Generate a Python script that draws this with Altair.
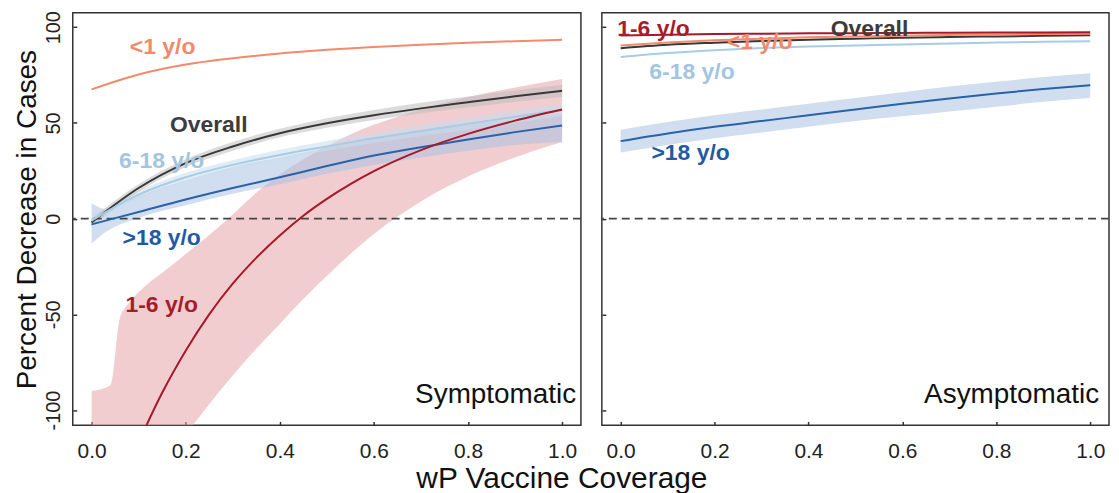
import altair as alt
import pandas as pd

FONT = "Liberation Sans"

# ---------------- data ----------------
X = [0.0, 0.1, 0.2, 0.3, 0.4, 0.5, 0.6, 0.7, 0.8, 0.9, 1.0]

# Symptomatic panel
sym_lt1 = [67.5, 75.3, 80.5, 83.8, 86.3, 88.2, 89.7, 90.9, 91.9, 92.7, 93.4]
sym_overall = [-2.0, 16.0, 29.0, 37.7, 44.6, 49.8, 54.0, 57.6, 60.8, 63.9, 66.8]
sym_overall_lo = [-4.0, 14.0, 27.0, 35.5, 42.5, 47.5, 51.5, 55.0, 58.0, 61.0, 63.5]
sym_overall_hi = [0.0, 18.0, 31.0, 40.0, 47.0, 52.5, 56.8, 60.5, 63.8, 67.0, 70.0]
sym_618 = [-1.0, 12.5, 21.6, 28.1, 33.3, 37.7, 42.0, 45.8, 49.5, 53.2, 56.8]
sym_618_lo = [-3.0, 10.5, 19.5, 26.0, 31.0, 35.5, 39.5, 43.0, 46.5, 50.0, 53.5]
sym_618_hi = [1.0, 14.5, 24.0, 30.5, 36.0, 40.5, 45.0, 49.0, 53.0, 56.5, 60.0]
sym_gt18 = [-3.0, 3.5, 10.0, 16.0, 21.6, 27.5, 33.0, 37.3, 41.3, 45.2, 48.7]
GX = [0.0, 0.03, 0.1, 0.2, 0.3, 0.4, 0.5, 0.6, 0.7, 0.8, 0.9, 1.0]
sym_gt18_lo = [-13.0, -7.0, 0.5, 7.0, 13.0, 18.0, 23.5, 28.0, 32.0, 35.5, 38.5, 40.0]
sym_gt18_hi = [8.0, 5.0, 12.0, 20.0, 27.0, 32.0, 37.0, 41.5, 45.5, 49.0, 52.0, 55.0]
X16 = [0.0, 0.05, 0.1, 0.15, 0.2, 0.25, 0.3, 0.35, 0.4, 0.45, 0.5, 0.55, 0.6, 0.7, 0.8, 0.9, 1.0]
sym_16 = [-180, -146, -117, -91, -69, -50, -34, -20.5, -8.8, 1.5, 10.3, 18.0, 24.8, 35.8, 44.3, 51.2, 57.0]
BX = [0.0, 0.04, 0.06, 0.08, 0.12, 0.16, 0.2, 0.25, 0.3, 0.35, 0.4, 0.45, 0.5, 0.55,
      0.6, 0.65, 0.7, 0.8, 0.9, 1.0]
sym_16_lo = [-190, -174, -166, -158, -142, -127, -113, -97, -82, -68, -55, -42, -30, -18.5,
             -8, 1, 9, 22, 32, 40]
sym_16_hi = [-90, -87, -52, -44, -34, -26.5, -18.5, -8.5, 2.2, 13.5, 23, 31, 38, 44,
             49, 53.2, 57, 63.5, 68.5, 73]

# Asymptomatic panel
asy_lt1 = [90.5, 92.0, 93.2, 94.0, 94.7, 95.2, 95.6, 95.9, 96.2, 96.4, 96.6]
asy_16 = [95.7, 96.1, 96.4, 96.6, 96.8, 96.9, 97.0, 97.1, 97.2, 97.3, 97.4]
asy_overall = [89.0, 90.8, 91.9, 92.8, 93.5, 94.0, 94.5, 94.9, 95.2, 95.5, 95.8]
asy_618 = [84.4, 86.5, 88.0, 89.1, 89.9, 90.5, 91.0, 91.5, 92.0, 92.4, 92.7]
asy_gt18 = [40.5, 44.5, 48.0, 51.0, 54.0, 57.0, 60.0, 62.8, 65.4, 67.7, 69.7]
asy_gt18_lo = [34.5, 38.5, 42.0, 45.0, 48.0, 51.0, 53.5, 56.0, 58.5, 61.0, 63.0]
asy_gt18_hi = [46.5, 50.5, 54.0, 57.0, 60.0, 63.0, 66.0, 69.0, 71.5, 74.0, 76.0]

# Series labels (text, x, y) per panel
sym_labels = [("<1 y/o", 0.151, 89.6), ("Overall", 0.249, 48.9), ("6-18 y/o", 0.149, 29.9),
              (">18 y/o", 0.149, -10.0), ("1-6 y/o", 0.149, -44.9)]
asy_labels = [("1-6 y/o", 0.07, 99.1), ("<1 y/o", 0.296, 92.2), ("Overall", 0.53, 99.1),
              ("6-18 y/o", 0.152, 76.6), (">18 y/o", 0.149, 34.2)]
panel_names = [("Symptomatic", 1.03, -96.4), ("Asymptomatic", 1.019, -96.4)]

X_TICKS = [0.0, 0.2, 0.4, 0.6, 0.8, 1.0]
Y_TICKS = [-100, -50, 0, 50, 100]

# ---------------- styling ----------------
LINE_COL = {"<1 y/o": "#F28A6C", "1-6 y/o": "#A6182A", "6-18 y/o": "#A8CCE4",
            ">18 y/o": "#2A62A8", "Overall": "#383838"}
TEXT_COL = {"<1 y/o": "#F08A6C", "1-6 y/o": "#A51C2B", "6-18 y/o": "#A3C5DF",
            ">18 y/o": "#1F5AA5", "Overall": "#3C3C3C"}
BAND_COL = {"1-6 y/o": "#E8A4A8", ">18 y/o": "#A9C3E3", "6-18 y/o": "#C6DCEE",
            "Overall": "#BEBEBE"}

xs = alt.Scale(domain=[-0.04, 1.04], nice=False, zero=False)
ys = alt.Scale(domain=[-108, 107.5], nice=False, zero=False)

x_axis = alt.Axis(values=X_TICKS, labelExpr="format(datum.value, '.1f')", title=None,
                  grid=False, domain=False, tickSize=4, offset=-4, tickColor="#333333",
                  tickWidth=1.5, labelFontSize=21, labelColor="#222222", labelPadding=15,
                  labelFont=FONT)
y_axis_left = alt.Axis(values=Y_TICKS, labelExpr="'' + datum.value",
                       title="Percent Decrease in Cases", titleFontSize=28,
                       titleFontWeight="normal", titleColor="#111111", titleFont=FONT,
                       titlePadding=2, labelAngle=270, labelAlign="center",
                       labelBaseline="bottom", labelFontSize=20, labelColor="#222222",
                       labelPadding=9, labelFont=FONT, grid=False, domain=False,
                       tickSize=4, offset=-4, tickColor="#333333", tickWidth=1.5)
y_axis_right = alt.Axis(values=Y_TICKS, labels=False, title=None, grid=False,
                        domain=False, tickSize=4, offset=-4, tickColor="#333333",
                        tickWidth=1.5)


def build_panel(lines, bands, labels, pname, yaxis, width):
    def X_():
        return alt.X("x:Q", scale=xs, axis=x_axis)

    layers = []
    for name, xv, lo, hi in bands:
        df = pd.DataFrame({"x": xv, "lo": lo, "hi": hi})
        layers.append(
            alt.Chart(df).mark_area(
                color=BAND_COL[name], opacity=0.55, interpolate="monotone", clip=True
            ).encode(
                x=X_(),
                y=alt.Y("lo:Q", scale=ys, axis=yaxis),
                y2=alt.Y2("hi:Q"),
            )
        )
    layers.append(
        alt.Chart(pd.DataFrame({"z": [0]})).mark_rule(
            strokeDash=[8, 5], color="#444444", strokeWidth=1.6
        ).encode(y=alt.Y("z:Q", scale=ys, axis=yaxis))
    )
    for name, xv, yv in lines:
        df = pd.DataFrame({"x": xv, "y": yv})
        layers.append(
            alt.Chart(df).mark_line(
                color=LINE_COL[name], strokeWidth=2, interpolate="monotone", clip=True
            ).encode(x=X_(), y=alt.Y("y:Q", scale=ys, axis=yaxis))
        )
    for t, a, b in labels:
        df = pd.DataFrame({"t": [t], "x": [a], "y": [b]})
        layers.append(
            alt.Chart(df).mark_text(
                font=FONT, fontSize=23, fontWeight="bold", align="center",
                baseline="middle", color=TEXT_COL[t]
            ).encode(x=X_(), y=alt.Y("y:Q", scale=ys, axis=yaxis), text="t:N")
        )
    pn_df = pd.DataFrame({"t": [pname[0]], "x": [pname[1]], "y": [pname[2]]})
    layers.append(
        alt.Chart(pn_df).mark_text(
            font=FONT, fontSize=28, align="right", baseline="alphabetic", color="#111111"
        ).encode(x=X_(), y=alt.Y("y:Q", scale=ys, axis=yaxis), text="t:N")
    )
    return alt.layer(*layers).properties(width=width, height=414)


left = build_panel(
    lines=[("Overall", X, sym_overall), ("6-18 y/o", X, sym_618), (">18 y/o", X, sym_gt18),
           ("<1 y/o", X, sym_lt1), ("1-6 y/o", X16, sym_16)],
    bands=[("1-6 y/o", BX, sym_16_lo, sym_16_hi), (">18 y/o", GX, sym_gt18_lo, sym_gt18_hi),
           ("6-18 y/o", X, sym_618_lo, sym_618_hi), ("Overall", X, sym_overall_lo, sym_overall_hi)],
    labels=sym_labels, pname=panel_names[0], yaxis=y_axis_left, width=510,
)
right = build_panel(
    lines=[(">18 y/o", X, asy_gt18), ("6-18 y/o", X, asy_618), ("Overall", X, asy_overall),
           ("<1 y/o", X, asy_lt1), ("1-6 y/o", X, asy_16)],
    bands=[(">18 y/o", X, asy_gt18_lo, asy_gt18_hi)],
    labels=asy_labels, pname=panel_names[1], yaxis=y_axis_right, width=509,
)

chart = alt.hconcat(left, right, spacing=17).properties(
    title=alt.TitleParams("wP Vaccine Coverage", orient="bottom", anchor="middle",
                          fontSize=30, fontWeight="normal", font=FONT, color="#111111",
                          baseline="top", offset=2),
    padding={"left": 5, "top": 0, "right": 0, "bottom": 0},
).configure_view(stroke="#333333", strokeWidth=1.5)

chart.save("out.html", embed_options={"renderer": "svg", "actions": False})
